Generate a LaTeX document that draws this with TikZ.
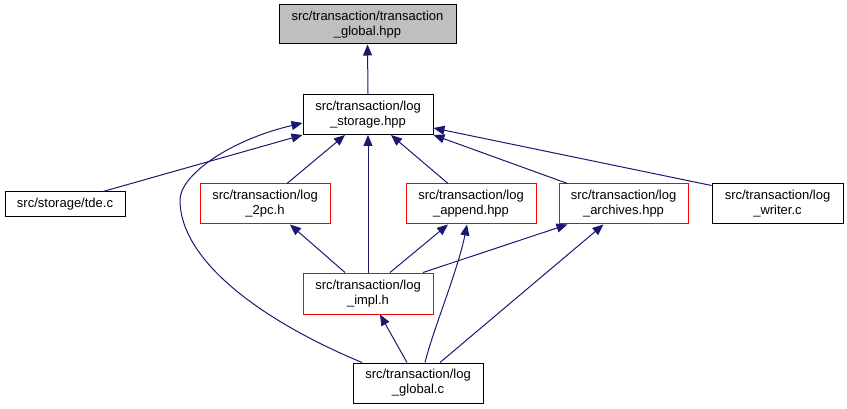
\documentclass[tikz,border=0pt]{standalone}
\usepackage{fontspec}
\setmainfont{Liberation Sans}
\usetikzlibrary{arrows.meta}
\definecolor{edgeblue}{HTML}{191970}
\definecolor{boxred}{HTML}{FF0000}
\definecolor{topgray}{HTML}{BFBFBF}
\tikzset{
  box/.style={draw=black, line width=1pt, align=center, inner sep=0pt,
    font=\fontsize{13}{15}\selectfont, fill=white},
  redbox/.style={box, draw=boxred},
  topbox/.style={box, fill=topgray},
  dep/.style={draw=edgeblue, line width=1pt,
    -{Triangle[length=11pt,width=9pt]}, fill=none},
}
\begin{document}
\begin{tikzpicture}[x=1pt,y=-1pt]
\useasboundingbox (0,0) rectangle (847,409);

\node[topbox, minimum width=177pt, minimum height=39pt] (top) at (367.5,24.5)
  {src/transaction/transaction\\\_global.hpp};
\node[box, minimum width=130pt, minimum height=40pt] (storage) at (368,114.5)
  {src/transaction/log\\\_storage.hpp};
\node[box, minimum width=120pt, minimum height=25pt] (tde) at (65,204.5)
  {src/storage/tde.c};
\node[redbox, minimum width=130pt, minimum height=40pt] (pc) at (265,204)
  {src/transaction/log\\\_2pc.h};
\node[redbox, minimum width=130pt, minimum height=40pt] (append) at (471,204)
  {src/transaction/log\\\_append.hpp};
\node[redbox, minimum width=129pt, minimum height=40pt] (archives) at (623.5,204)
  {src/transaction/log\\\_archives.hpp};
\node[box, minimum width=131pt, minimum height=40pt] (writer) at (777.5,204)
  {src/transaction/log\\\_writer.c};
\node[redbox, minimum width=130pt, minimum height=41pt] (impl) at (368,293.5)
  {src/transaction/log\\\_impl.h};
\node[box, minimum width=130pt, minimum height=40pt] (global) at (418,383)
  {src/transaction/log\\\_global.c};

\draw[dep] (storage.north) -- (top.south);
\draw[dep] ([xshift=38pt]tde.north) -- (storage.south west);
\draw[dep] ([xshift=-56pt]global.north) .. controls (260,320) and (180,260) .. (180,200)
  .. controls (180,175) and (230,140) .. ([yshift=-8.5pt]storage.west);
\draw[dep] ([xshift=22pt]pc.north) -- ([xshift=-23pt]storage.south);
\draw[dep] (impl.north) -- (storage.south);
\draw[dep] ([xshift=-23pt]append.north) -- ([xshift=23pt]storage.south);
\draw[dep] ([xshift=-56pt]archives.north) -- (storage.south east);
\draw[dep] ([yshift=-2pt]writer.north west) -- ([yshift=-13.5pt]storage.east);
\draw[dep] ([xshift=-23pt]impl.north) -- ([xshift=25pt]pc.south);
\draw[dep] ([xshift=22pt]impl.north) -- ([xshift=-23pt]append.south);
\draw[dep] ([xshift=55pt]impl.north) -- ([xshift=-56pt]archives.south);
\draw[dep] ([xshift=-11pt]global.north) -- ([xshift=12pt]impl.south);
\draw[dep] ([xshift=7pt]global.north) .. controls (433,330) and (458,270) .. ([xshift=-4pt]append.south);
\draw[dep] ([xshift=22pt]global.north) -- ([xshift=-20pt]archives.south);
\end{tikzpicture}
\end{document}
